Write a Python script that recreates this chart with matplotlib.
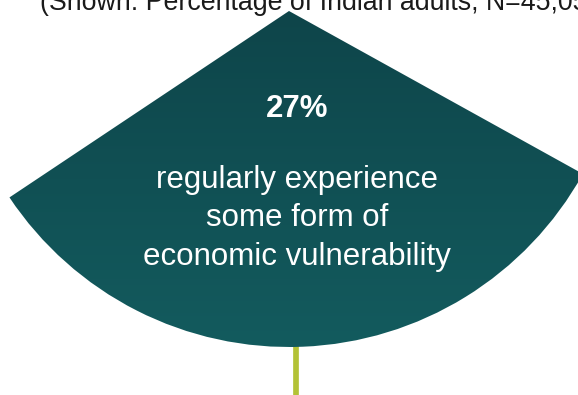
import numpy as np
import matplotlib.pyplot as plt
from matplotlib.patches import Wedge
from matplotlib.colors import LinearSegmentedColormap

plt.rcParams['font.family'] = ['Liberation Sans', 'DejaVu Sans']

# values shown on the card
share_pct = 27
caption_lines = ['regularly experience', 'some form of', 'economic vulnerability']
subtitle = '(Shown: Percentage of Indian adults, N=45,056)'

W, H = 578, 395
fig = plt.figure(figsize=(W / 100, H / 100), dpi=100)
ax = fig.add_axes([0, 0, 1, 1])
ax.set_xlim(0, W)
ax.set_ylim(0, H)
ax.axis('off')

# fan shape: apex near the top, arc at the bottom
cx, cy, r = 289, H - 11, 336
fan = Wedge((cx, cy), r, 213.7, 331, facecolor='none', edgecolor='none', zorder=3)
ax.add_patch(fan)

teal = LinearSegmentedColormap.from_list('teal', ['#135b5e', '#0e454a'])
grad = np.linspace(0, 1, 256).reshape(-1, 1)
img = ax.imshow(grad, cmap=teal, aspect='auto', origin='lower',
                extent=(cx - r, cx + r, cy - r, cy), zorder=3)
img.set_clip_path(fan)

# stem under the fan
ax.plot([296, 296], [0, cy - r + 3], color='#b3c236', linewidth=4.1,
        solid_capstyle='butt', zorder=2)

ax.text(297, H - 117, f'{share_pct}%', color='white', fontsize=22.5,
        fontweight='bold', ha='center', va='baseline', zorder=4)
for i, line in enumerate(caption_lines):
    ax.text(297, H - 188 - i * 38.5, line, color='white', fontsize=22.5,
            ha='center', va='baseline', zorder=4)

ax.text(40, H - 9.5, subtitle, color='#1a1a1a', fontsize=19.3,
        ha='left', va='baseline', zorder=4)

fig.savefig('out.png', dpi=100)
